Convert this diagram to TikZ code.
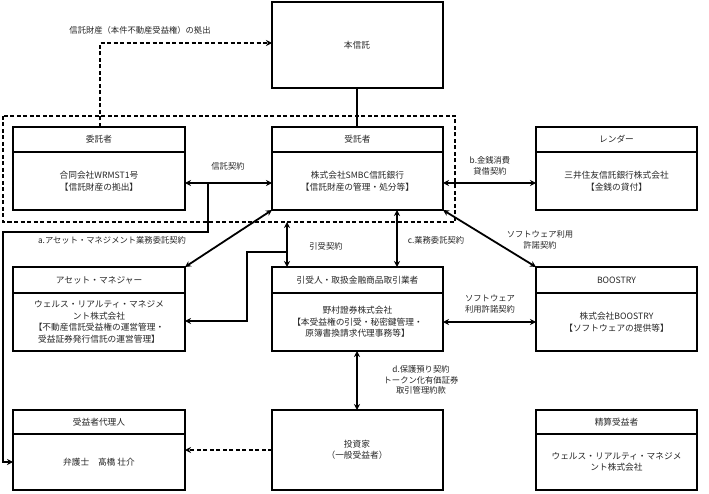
\documentclass[tikz,border=0pt]{standalone}
\usepackage{fontspec}
\setmainfont{Noto Sans CJK JP}
\usetikzlibrary{arrows.meta,calc}
\begin{document}
\begin{tikzpicture}[x=1pt,y=-1pt,
  box/.style={draw,line width=1.2pt},
  con/.style={line width=1.8pt},
  dsh/.style={line width=1.2pt,dash pattern=on 4pt off 2.5pt},
  dbl/.style={con,{Stealth[length=6pt,width=6pt]}-{Stealth[length=6pt,width=6pt]}},
  one/.style={con,-{Stealth[length=6pt,width=6pt]}},
  lbl/.style={font=\fontsize{8.3}{10.5}\selectfont,align=center,text=black!85},
  txt/.style={font=\fontsize{8.7}{11.5}\selectfont,align=center,text=black!85}]
\useasboundingbox (0,0) rectangle (709,494);
\def\myhbox#1#2#3#4#5#6#7#8{%
  \draw[box] (#2,#3) rectangle (#4,#5);
  \draw[line width=1.2pt] (#2,#6) -- (#4,#6);
  \node[txt] at ({(#2+#4)/2},{(#3+#6)/2}) {#7};
  \node[txt] (#1) at ({(#2+#4)/2},{(#6+#5)/2}) {#8};
}
\draw[box] (272,2) rectangle (443,88);
\node[txt] (hon) at (357,45) {本信託};
\myhbox{itaku}{13}{127}{185}{210}{152}{委託者}{合同会社WRMST1号\\【信託財産の拠出】}
\myhbox{jutaku}{272}{127}{443}{210}{152}{受託者}{株式会社SMBC信託銀行\\【信託財産の管理・処分等】}
\myhbox{lender}{536}{127}{697}{210}{152}{レンダー}{三井住友信託銀行株式会社\\【金銭の貸付】}
\myhbox{am}{13}{267}{185}{351}{293}{アセット・マネジャー}{ウェルス・リアルティ・マネジメ\\ント株式会社\\【不動産信託受益権の運営管理・\\受益証券発行信託の運営管理】}
\myhbox{hiki}{272}{267}{443}{351}{293}{引受人・取扱金融商品取引業者}{野村證券株式会社\\【本受益権の引受・秘密鍵管理・\\原簿書換請求代理事務等】}
\myhbox{boo}{536}{267}{697}{351}{293}{BOOSTRY}{株式会社BOOSTRY\\【ソフトウェアの提供等】}
\myhbox{dairi}{13}{410}{185}{490}{434}{受益者代理人}{弁護士　髙橋 壮介}
\draw[box] (272,410) rectangle (443,490);
\node[txt] (inv) at (357,450) {投資家\\（一般受益者）};
\myhbox{seisan}{536}{410}{697}{490}{434}{精算受益者}{ウェルス・リアルティ・マネジメ\\ント株式会社}
\draw[dsh] (3,116) rectangle (455,222);
\coordinate (t1) at (100,127); \coordinate (t2) at (100,43); \coordinate (t3) at (272,43);
\draw[dsh,-{Stealth[length=6pt,width=6pt]}] (t1) -- (t2) -- (t3);
\node[lbl] at (140,30) {信託財産（本件不動産受益権）の拠出};
\draw[con] (357,88) -- (357,127);
\draw[dbl] (185,183) -- (272,183);
\node[lbl] at (228,166) {信託契約};
\draw[one] (208,183) -- (208,232) -- (3,232) -- (3,462) -- (13,462);
\draw[dbl] (272,210) -- (185,267);
\node[lbl] at (112,240) {a.アセット・マネジメント業務委託契約};
\draw[dbl] (287,222) -- (287,267);
\draw[one] (287,252) -- (247,252) -- (247,321) -- (185,321);
\node[lbl] at (326,246) {引受契約};
\draw[dbl] (397,210) -- (397,267);
\node[lbl] at (436,240) {c.業務委託契約};
\draw[dbl] (443,183) -- (536,183);
\node[lbl] at (490,166) {b.金銭消費\\貸借契約};
\draw[dbl] (443,210) -- (536,267);
\node[lbl] at (540,240) {ソフトウェア利用\\許諾契約};
\draw[dbl] (443,322) -- (536,322);
\node[lbl] at (490,304) {ソフトウェア\\利用許諾契約};
\draw[dbl] (357,351) -- (357,410);
\node[lbl] at (421,380) {d.保護預り契約\\トークン化有価証券\\取引管理約款};
\draw[dsh,-{Stealth[length=6pt,width=6pt]}] (272,450) -- (185,450);
\end{tikzpicture}
\end{document}
